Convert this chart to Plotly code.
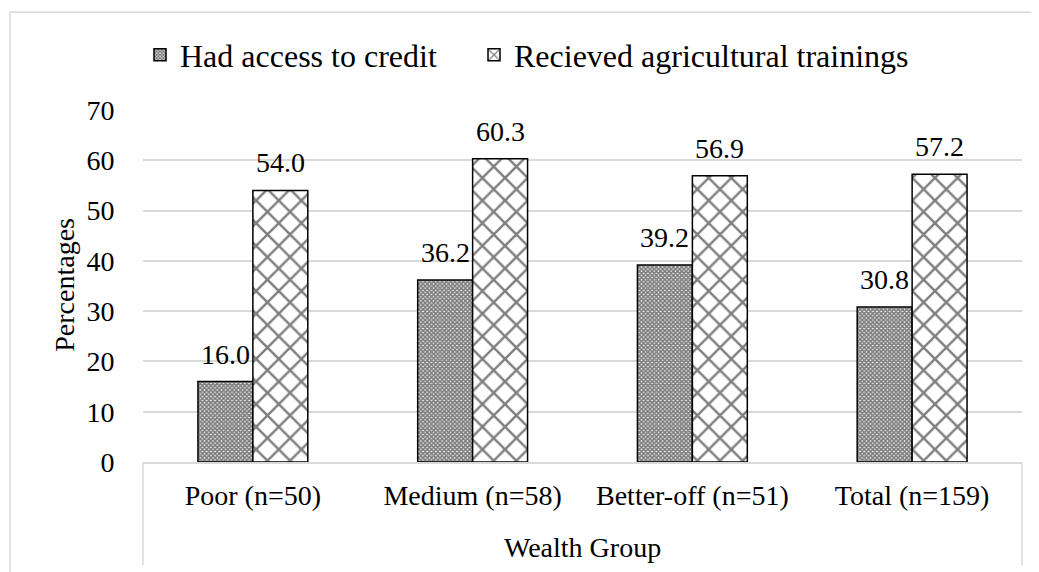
import plotly.graph_objects as go

categories = ["Poor (n=50)", "Medium (n=58)", "Better-off (n=51)", "Total (n=159)"]
credit = [16.0, 36.2, 39.2, 30.8]
training = [54.0, 60.3, 56.9, 57.2]
series_names = ["Had access to credit", "Recieved agricultural trainings"]
y_ticks = [0, 10, 20, 30, 40, 50, 60, 70]

OFF = 8  # page body margin
W, H = 1039 - OFF, 572 - OFF
L, T = 143 - OFF, 110 - OFF
pw, ph = 879, 352.5
R, B = W - L - pw, H - T - ph

def px_x(x):
    return (x - OFF - L) / pw

def px_y(y):
    return 1 - (y - OFF - T) / ph

FONT = "Liberation Serif"
fs = 28
grid = "#D9D9D9"
half_bar = 27.6

fig = go.Figure()
fig.add_trace(go.Bar(
    x=categories, y=credit, name=series_names[0], legend="legend",
    marker=dict(color="white", line=dict(color="black", width=1.5),
                pattern=dict(shape="x", size=3, solidity=0.8, fgcolor="black", bgcolor="white")),
))
fig.add_trace(go.Bar(
    x=categories, y=training, name=series_names[1], legend="legend2",
    marker=dict(color="white", line=dict(color="black", width=1.5),
                pattern=dict(shape="x", size=16, solidity=0.28, fgcolor="black", bgcolor="white")),
))

annotations = []
for vals, shift in ((credit, -half_bar), (training, half_bar)):
    for c, v in zip(categories, vals):
        annotations.append(dict(
            x=c, y=v, xref="x", yref="y", text=f"{v:.1f}", showarrow=False,
            xshift=shift, yshift=10, yanchor="bottom", xanchor="center",
            font=dict(family=FONT, size=fs, color="black")))

annotations += [
    dict(text="Wealth Group", xref="paper", yref="paper", x=0.5, y=px_y(548),
         showarrow=False, font=dict(family=FONT, size=fs, color="black"),
         xanchor="center", yanchor="middle"),
    dict(text="Percentages", xref="paper", yref="paper", x=px_x(65), y=px_y(285),
         showarrow=False, textangle=-90, font=dict(family=FONT, size=fs, color="black"),
         xanchor="center", yanchor="middle"),
]

shapes = [
    dict(type="rect", xref="paper", yref="paper",
         x0=px_x(10), x1=px_x(1060), y0=px_y(600), y1=px_y(12),
         line=dict(color=grid, width=1.5), fillcolor="rgba(0,0,0,0)", layer="below"),
    dict(type="line", xref="paper", yref="paper", x0=0, x1=0, y0=px_y(463), y1=px_y(566),
         line=dict(color=grid, width=1.5)),
    dict(type="line", xref="paper", yref="paper", x0=1, x1=1, y0=px_y(463), y1=px_y(566),
         line=dict(color=grid, width=1.5)),
]

def legend_at(px_left):
    return dict(orientation="h", xref="container", yref="container",
                x=(px_left - OFF) / W, xanchor="left", y=1 - (55 - OFF) / H, yanchor="middle",
                font=dict(family=FONT, size=32, color="black"), itemwidth=30,
                bgcolor="rgba(0,0,0,0)")

fig.update_layout(
    width=W, height=H,
    margin=dict(l=L, r=R, t=T, b=B, autoexpand=False),
    paper_bgcolor="white", plot_bgcolor="white",
    barmode="group", bargap=0.5, bargroupgap=0,
    font=dict(family=FONT, size=fs, color="black"),
    showlegend=True,
    legend=legend_at(140),
    legend2=legend_at(474),
    shapes=shapes, annotations=annotations,
    xaxis=dict(showline=True, linecolor=grid, linewidth=1.5, showgrid=False,
               ticks="outside", ticklen=8, tickcolor="rgba(0,0,0,0)",
               tickfont=dict(family=FONT, size=fs, color="black")),
    yaxis=dict(range=[0, 70], tickvals=y_ticks, showgrid=True, gridcolor=grid, gridwidth=1.5,
               zeroline=False, showline=False,
               ticks="outside", ticklen=22, tickcolor="rgba(0,0,0,0)",
               tickfont=dict(family=FONT, size=fs, color="black")),
)

fig.write_html("out.html")
